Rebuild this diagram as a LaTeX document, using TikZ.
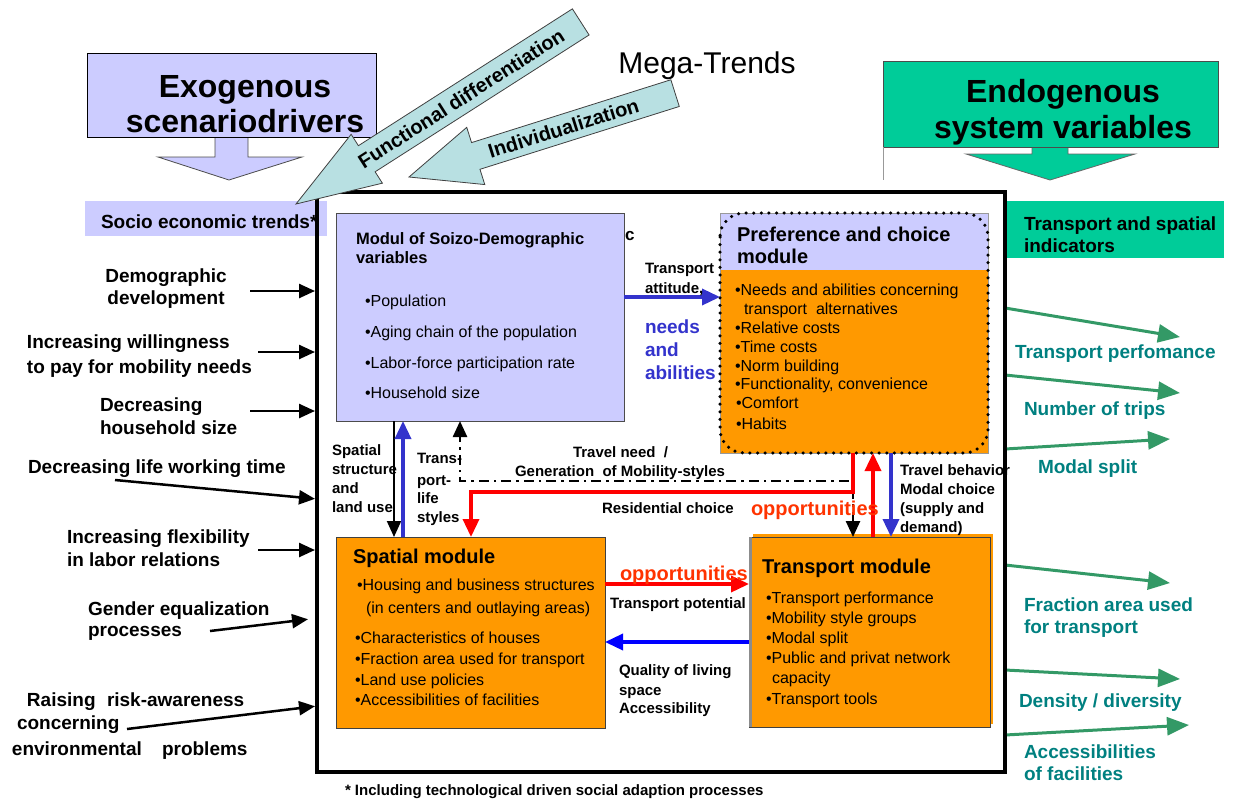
\documentclass[tikz,border=0pt]{standalone}
\usepackage{fontspec}
\setmainfont{Liberation Sans}
\usetikzlibrary{arrows.meta}
\definecolor{lav}{HTML}{CCCCFF}
\definecolor{orng}{HTML}{FF9900}
\definecolor{endo}{HTML}{00CC99}
\definecolor{mega}{HTML}{B8E0E2}
\definecolor{blueA}{HTML}{3333CC}
\definecolor{blueB}{HTML}{0000FF}
\definecolor{redA}{HTML}{FF0000}
\definecolor{oppc}{HTML}{FF3300}
\definecolor{greenA}{HTML}{339966}
\definecolor{tealt}{HTML}{008080}
\newcommand\fz[1]{\fontsize{#1}{#1}\selectfont}
\begin{document}
\begin{tikzpicture}[x=1pt,y=-1pt,
  txt/.style={anchor=base west, inner sep=0pt, outer sep=0pt},
  ctxt/.style={anchor=base, inner sep=0pt, outer sep=0pt},
  lbl/.style={txt, font=\bfseries\fz{19}},
  bul/.style={txt, font=\fz{16}},
  sml/.style={txt, font=\bfseries\fz{15}},
  ttl/.style={txt, font=\bfseries\fz{20}},
  ind/.style={txt, font=\bfseries\fz{19}, text=tealt},
  rect/.style={anchor=north west, inner sep=0pt, outer sep=0pt},
  blkarr/.style={line width=2.5pt, shorten >=2pt, -{Triangle[length=16pt,width=14pt]}},
  grnarr/.style={draw=greenA, line width=3pt, shorten <=2pt, -{Triangle[length=22pt,width=18pt]}},
  midarr/.style={line width=3.5pt, -{Triangle[length=18pt,width=16pt]}},
  megaarr/.style={fill=mega, draw=black!75, line width=0.8pt},
]
\useasboundingbox (0,0) rectangle (1238,801);

% ---------- Exogenous block ----------
\draw[fill=lav, draw=black!70, line width=0.8pt] (215,137) -- (215,157) -- (158,157) -- (229,180) -- (302,157) -- (248,157) -- (248,137) -- cycle;
\node[rect, draw=black, line width=1pt, fill=lav, minimum width=289pt, minimum height=84pt] (exo) at (87,53) {};
\node[ctxt, font=\bfseries\fz{32}] (exo1) at (245,97) {Exogenous};
\node[ctxt, font=\bfseries\fz{32}] (exo2) at (245,132) {scenariodrivers};

\node[ctxt, font=\fz{30}] (mega) at (707,73) {Mega-Trends};

% ---------- Endogenous block ----------
\draw[fill=endo, draw=black!60, line width=0.8pt] (1032,147) -- (1032,154) -- (966,154) -- (1050,180) -- (1135,154) -- (1068,154) -- (1068,147) -- cycle;
\node[rect, draw=black!70, line width=1pt, fill=endo, minimum width=335pt, minimum height=86pt] (endo) at (883,61) {};
\draw[black!40, line width=0.6pt] (endo.south west) -- ++(0,33);
\node[ctxt, font=\bfseries\fz{32}] (endo1) at (1063,102) {Endogenous};
\node[ctxt, font=\bfseries\fz{32}] (endo2) at (1063,138) {system variables};

% ---------- side header boxes ----------
\node[rect, fill=lav, minimum width=242pt, minimum height=35pt] (socio) at (85,201) {};
\node[txt, font=\bfseries\fz{19}] (sociot) at (101,228) {Socio economic trends*};
\node[rect, fill=endo, minimum width=217pt, minimum height=57pt] (tsi) at (1007,201) {};
\node[lbl] (tsi1) at (1024,230) {Transport and spatial};
\node[lbl] (tsi2) at (1024,252) {indicators};

% ---------- main frame ----------
\node[rect, draw=black, line width=4pt, minimum width=688pt, minimum height=580pt] (frame) at (317,192) {};

% ---------- Modul of socio-demographic variables ----------
\node[rect, draw=black!70, line width=1pt, fill=lav, minimum width=288pt, minimum height=208pt] (modul) at (336,213) {};
\node[txt, font=\bfseries\fz{16.5}] (mo1) at (356,244) {Modul of Soizo-Demographic};
\node[txt, font=\bfseries\fz{16.5}] (mo2) at (356,263) {variables};
\node[bul] (mo3) at (365,306) {•Population};
\node[bul] (mo4) at (365,337) {•Aging chain of the population};
\node[bul] (mo5) at (365,368) {•Labor-force participation rate};
\node[bul] (mo6) at (365,398) {•Household size};
\node[txt, font=\bfseries\fz{17}] (moc) at (625,240) {c};

% ---------- Preference and choice module ----------
\node[rect, minimum width=268pt, minimum height=240pt] (pref) at (720,213) {};
\fill[orng] (pref.north west) rectangle (pref.south east);
\fill[lav] (pref.north west) rectangle ([yshift=-57pt]pref.north east);
\draw[black!40, line width=0.6pt] (pref.north west) rectangle (pref.south east);
\draw[line width=3.5pt, line cap=round, dash pattern=on 0pt off 7.6pt, rounded corners=24pt] (pref.north west) rectangle (pref.south east);
\node[ttl] (pr1) at (737,241) {Preference and choice};
\node[ttl] (pr2) at (737,263) {module};
\node[bul] (pr3) at (735,295) {•Needs and abilities concerning};
\node[bul] (pr4) at (744,314) {transport\ \ alternatives};
\node[bul] (pr5) at (735,333) {•Relative costs};
\node[bul] (pr6) at (735,352) {•Time costs};
\node[bul] (pr7) at (735,371) {•Norm building};
\node[bul] (pr8) at (735,389) {•Functionality, convenience};
\node[bul] (pr9) at (736,408) {•Comfort};
\node[bul] (pr10) at (736,429) {•Habits};

% ---------- Spatial module ----------
\node[rect, draw=black!75, line width=1pt, fill=orng, minimum width=269pt, minimum height=191pt] (spat) at (336,537) {};
\node[ttl] (sp1) at (353,563) {Spatial module};
\node[bul] (sp2) at (357,590) {•Housing and business structures};
\node[bul] (sp3) at (366,613) {(in centers and outlaying areas)};
\node[bul] (sp4) at (355,643) {•Characteristics of houses};
\node[bul] (sp5) at (355,664) {•Fraction area used for transport};
\node[bul] (sp6) at (355,685) {•Land use policies};
\node[bul] (sp7) at (355,705) {•Accessibilities of facilities};

% ---------- Transport module ----------
\fill[orng] (753,534) rectangle (993,724);
\node[rect, draw=black!75, line width=1pt, fill=orng, minimum width=241pt, minimum height=190pt] (trans) at (749,537) {};
\draw[black!45, line width=3pt] ([xshift=1.5pt]trans.north west) -- ([xshift=1.5pt]trans.south west);
\node[ttl] (tr1) at (762,573) {Transport module};
\node[bul] (tr2) at (766,603) {•Transport performance};
\node[bul] (tr3) at (766,623) {•Mobility style groups};
\node[bul] (tr4) at (766,643) {•Modal split};
\node[bul] (tr5) at (766,663) {•Public and privat network};
\node[bul] (tr6) at (772,683) {capacity};
\node[bul] (tr7) at (766,704) {•Transport tools};

% ---------- internal connectors ----------
\draw[line width=2.5pt, dash pattern=on 10pt off 5pt on 2.5pt off 5pt, {Triangle[length=16pt,width=14pt]}-{Triangle[length=16pt,width=14pt]}] (trans.north -| 853,0) -- (853,481) -- (460,481) -- (modul.south -| 460,0);
\draw[redA, midarr] (pref.south -| 853,0) -- (853,492) -- (471,492) -- (spat.north -| 471,0);
\draw[redA, midarr] (trans.north -| 873,0) -- (pref.south -| 873,0);
\draw[blueA, midarr] (pref.south -| 891,0) -- (trans.north -| 891,0);
\draw[line width=2pt, -{Triangle[length=16pt,width=14pt]}] (modul.south -| 394,0) -- (spat.north -| 394,0);
\draw[blueA, midarr] (spat.north -| 403,0) -- (modul.south -| 403,0);
\draw[blueA, midarr] (modul.east |- 0,297) -- (pref.west |- 0,297);
\draw[redA, midarr] (spat.east |- 0,584) -- (trans.west |- 0,584);
\draw[blueB, midarr] (trans.west |- 0,642) -- (spat.east |- 0,642);

% connector labels
\node[sml] (ta1) at (645,273) {Transport};
\node[sml] (ta2) at (645,293) {attitude,};
\node[txt, font=\bfseries\fz{19}, text=blueA] (na1) at (645,333) {needs};
\node[txt, font=\bfseries\fz{19}, text=blueA] (na2) at (645,356) {and};
\node[txt, font=\bfseries\fz{19}, text=blueA] (na3) at (645,379) {abilities};
\node[sml] (ss1) at (332,455) {Spatial};
\node[sml] (ss2) at (332,474) {structure};
\node[sml] (ss3) at (332,493) {and};
\node[sml] (ss4) at (332,512) {land use};
\node[sml] (tl1) at (417,463) {Trans-};
\node[sml] (tl2) at (417,485) {port-};
\node[sml] (tl3) at (417,503) {life};
\node[sml] (tl4) at (417,522) {styles};
\node[sml] (tn1) at (573,457) {Travel need\ \ /};
\node[sml] (tn2) at (515,476) {Generation\ \ of Mobility-styles};
\node[sml] (rc) at (602,513) {Residential choice};
\node[txt, font=\bfseries\fz{20}, text=oppc] (op1) at (751,515) {opportunities};
\node[sml] (tb1) at (900,475) {Travel behavior};
\node[sml] (tb2) at (900,494) {Modal choice};
\node[sml] (tb3) at (900,513) {(supply and};
\node[sml] (tb4) at (900,532) {demand)};
\node[txt, font=\bfseries\fz{20}, text=oppc] (op2) at (620,580) {opportunities};
\node[sml] (tp) at (610,608) {Transport potential};
\node[sml] (ql1) at (619,675) {Quality of living};
\node[sml] (ql2) at (619,695) {space};
\node[sml] (ql3) at (619,713) {Accessibility};

% ---------- left drivers ----------
\node[ctxt, font=\bfseries\fz{19}] (d1a) at (166,282) {Demographic};
\node[ctxt, font=\bfseries\fz{19}] (d1b) at (166,304) {development};
\node[lbl] (d2a) at (27,348) {Increasing willingness};
\node[lbl] (d2b) at (27,373) {to pay for mobility needs};
\node[lbl] (d3a) at (100,411) {Decreasing};
\node[lbl] (d3b) at (100,434) {household size};
\node[lbl] (d4) at (28,473) {Decreasing life working time};
\node[lbl] (d5a) at (67,543) {Increasing flexibility};
\node[lbl] (d5b) at (67,566) {in labor relations};
\node[lbl] (d6a) at (88,615) {Gender equalization};
\node[lbl] (d6b) at (88,636) {processes};
\node[lbl] (d7a) at (27,706) {Raising};
\node[lbl] (d7b) at (107,706) {risk-awareness};
\node[lbl] (d7c) at (17,729) {concerning};
\node[lbl] (d7d) at (12,755) {environmental};
\node[lbl] (d7e) at (162,755) {problems};

\draw[blkarr] (250,291) -- (frame.west |- 0,291);
\draw[blkarr] (258,352) -- (frame.west |- 0,352);
\draw[blkarr] (250,411) -- (frame.west |- 0,411);
\draw[blkarr] (115,480) -- (frame.west |- 0,499);
\draw[blkarr] (258,550) -- (frame.west |- 0,550);
\draw[blkarr] (210,631) -- (310,619);
\draw[blkarr] (127,729) -- (frame.west |- 0,706);

% ---------- right indicators ----------
\coordinate (g1) at (1180,337);
\coordinate (g2) at (1180,393);
\coordinate (g3) at (1170,439);
\coordinate (g4) at (1170,583);
\coordinate (g5) at (1180,679);
\coordinate (g6) at (1189,725);
\draw[grnarr] (frame.east |- 0,308) -- (g1);
\draw[grnarr] (frame.east |- 0,375) -- (g2);
\draw[grnarr] (frame.east |- 0,449) -- (g3);
\draw[grnarr] (frame.east |- 0,565) -- (g4);
\draw[grnarr] (frame.east |- 0,670) -- (g5);
\draw[grnarr] (frame.east |- 0,735) -- (g6);
\node[ind] (i1) at (1015,358) {Transport perfomance};
\node[ind] (i2) at (1024,415) {Number of trips};
\node[ind] (i3) at (1038,473) {Modal split};
\node[ind] (i4a) at (1024,611) {Fraction area used};
\node[ind] (i4b) at (1024,633) {for transport};
\node[ind] (i5) at (1019,707) {Density / diversity};
\node[ind] (i6a) at (1024,758) {Accessibilities};
\node[ind] (i6b) at (1024,780) {of facilities};

% ---------- Mega-trend arrows ----------
\begin{scope}[shift={(409,177)}, rotate=17.5]
  \draw[megaarr] (0,0) -- (70,30) -- (70,14) -- (279,14) -- (279,-14) -- (70,-14) -- (70,-30) -- cycle;
  \node[font=\bfseries\fz{20}, rotate=17.5, inner sep=0pt] (indiv) at (162,0) {Individualization};
\end{scope}
\begin{scope}[shift={(296,204)}, rotate=32.6]
  \draw[megaarr] (0,0) -- (84,29) -- (84,15.5) -- (338,15.5) -- (338,-15.5) -- (84,-15.5) -- (84,-29) -- cycle;
  \node[font=\bfseries\fz{20}, rotate=32.6, inner sep=0pt] (funct) at (196,0) {Functional differentiation};
\end{scope}

% ---------- footnote ----------
\node[sml] (foot) at (345,795) {* Including technological driven social adaption processes};
\end{tikzpicture}
\end{document}
